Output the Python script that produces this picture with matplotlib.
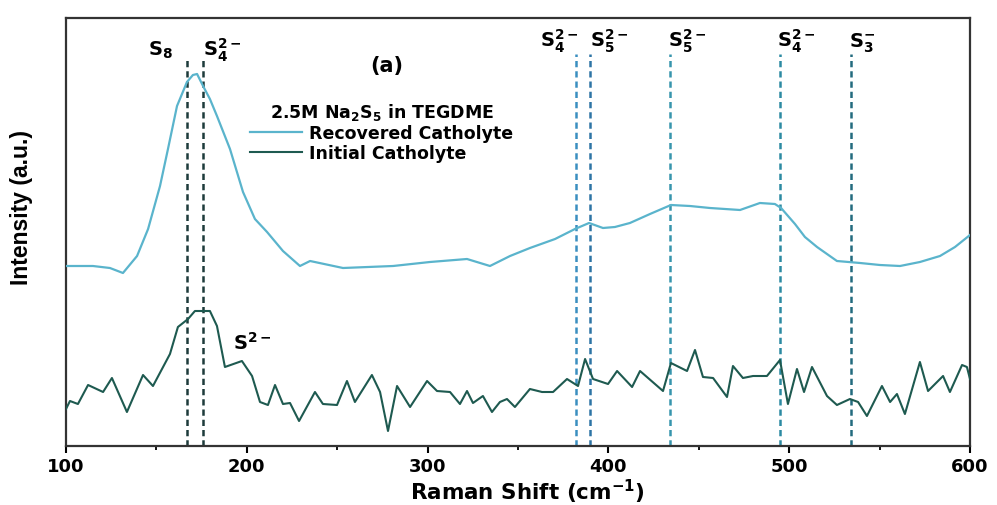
import matplotlib
matplotlib.use("Agg")
import matplotlib.pyplot as plt
from matplotlib.ticker import MultipleLocator

plt.rcParams['font.family'] = ['DejaVu Sans']
plt.rcParams['mathtext.default'] = 'bf'

# Recovered catholyte (upper curve), Raman shift (cm-1) vs intensity (a.u.)
rec_x = [100, 114.9, 124.3, 131.5, 139.3, 145.4, 152.0, 156.4, 161.4, 166.9, 170.2, 172.5,
         175.8, 179.6, 183.5, 190.7, 197.9, 204.5, 211.2, 220.0, 229.4, 235.0, 253.2, 280.9,
         301.3, 321.8, 334.5, 345.6, 356.6, 370.5, 381.5, 389.3, 397.0, 403.6, 411.9, 423.0,
         434.6, 445.1, 456.2, 472.8, 483.8, 492.1, 495.5, 503.2, 508.7, 515.4, 526.4, 539.2,
         550.2, 561.3, 572.3, 583.4, 591.7, 600]
rec_y = [180, 180, 178, 173, 190, 217, 260, 297, 340, 364, 371, 372,
         360, 347, 330, 297, 254, 227, 214, 195, 180, 185, 178, 180,
         184, 187, 180, 190, 198, 207, 217, 223, 218, 219, 223, 232,
         241, 240, 238, 236, 243, 242, 238, 222, 209, 199, 185, 183,
         181, 180, 184, 190, 199, 211]

# Initial catholyte (lower curve)
ini_x = [100, 102.2, 106.6, 112.2, 120.5, 125.4, 133.7, 142.6, 148.1, 157.5, 161.9, 167.5,
         171.3, 179.6, 183.5, 187.9, 197.3, 202.9, 207.3, 211.7, 215.6, 220.0, 223.9, 228.9,
         237.7, 242.1, 249.9, 255.4, 259.8, 269.2, 273.7, 278.1, 283.1, 290.3, 299.7, 305.2,
         312.4, 317.9, 321.8, 325.1, 330.6, 335.6, 340.0, 343.9, 348.3, 356.6, 363.3, 369.4,
         377.1, 383.2, 387.1, 391.5, 399.8, 404.8, 413.1, 417.5, 430.2, 434.6, 443.5, 447.9,
         452.3, 457.9, 465.6, 468.9, 474.4, 480.0, 487.7, 494.9, 499.3, 504.3, 508.2, 512.6,
         520.9, 526.4, 533.6, 538.1, 543.0, 551.3, 555.8, 559.6, 564.0, 572.3, 576.8, 585.1,
         588.9, 595.6, 598.3, 600]
ini_y = [37, 45, 42, 61, 54, 68, 34, 71, 60, 92, 119, 127,
         135, 135, 120, 79, 85, 70, 44, 41, 61, 42, 43, 25,
         54, 42, 41, 65, 44, 71, 54, 15, 60, 39, 65, 55,
         54, 42, 55, 43, 50, 34, 44, 47, 39, 57, 54, 54,
         67, 60, 87, 67, 62, 75, 59, 75, 55, 83, 75, 96,
         69, 68, 49, 80, 68, 70, 70, 86, 42, 77, 54, 79,
         50, 41, 47, 44, 30, 60, 44, 52, 32, 84, 55, 70,
         54, 81, 79, 67]

# Peak assignments (dashed reference lines)
peak_pos = [167, 176, 382, 390, 434, 495, 534]
peak_labels = [r'S$_8$', r'S$_4^{2-}$', r'S$_4^{2-}$', r'S$_5^{2-}$', r'S$_5^{2-}$',
               r'S$_4^{2-}$', r'S$_3^{-}$']
peak_colors = ['#1d3b3b', '#1d3b3b', '#3a8fc0', '#2d74a5', '#3795ad', '#2c8aa2', '#236b7e']

fig = plt.figure(figsize=(9.97, 5.06), dpi=100)
ax = fig.add_axes([66/997, 1-447/506, 904/997, 428/506])

ax.plot(rec_x, rec_y, color='#5ab4cc', lw=1.6, label='Recovered Catholyte', zorder=3)
ax.plot(ini_x, ini_y, color='#1e5a50', lw=1.5, label='Initial Catholyte', zorder=3)

# label placement: (ha, dx, y-top of line, y baseline)
label_cfg = [('right', -8, 389, 391), ('left', 0, 389, 391), ('right', 1.5, 392, 400),
             ('left', 0, 392, 400), ('left', -1, 392, 400), ('left', -2, 392, 400),
             ('left', -1, 392, 400)]
for xp, lab, col, (ha, dx, ytop, yb) in zip(peak_pos, peak_labels, peak_colors, label_cfg):
    ax.vlines(xp, 0, ytop, colors=col, linestyles=(0, (2.5, 1.6)), lw=1.8, zorder=2)
    ax.text(xp + dx, yb, lab, ha=ha, va='baseline', fontsize=14, fontweight='bold')

ax.text(192.4, 97, r'S$^{2-}$', ha='left', va='baseline', fontsize=14, fontweight='bold')
ax.text(277.5, 381, '(a)', ha='center', va='center', fontsize=15, fontweight='bold')

leg = ax.legend(loc='upper left', bbox_to_anchor=(0.2035, 0.805), frameon=False,
                title=r'2.5M Na$_2$S$_5$ in TEGDME',
                title_fontproperties={'weight': 'bold', 'size': 12.5},
                prop={'weight': 'bold', 'size': 12.5},
                handlelength=3.0, handletextpad=0.4, labelspacing=0.1,
                borderpad=0, borderaxespad=0)

ax.set_xlim(100, 600)
ax.set_ylim(0, 428)
ax.set_yticks([])
ax.xaxis.set_major_locator(MultipleLocator(100))
ax.xaxis.set_minor_locator(MultipleLocator(50))
ax.tick_params(axis='x', which='major', direction='out', length=5, width=1.5,
               labelsize=13, pad=3)
ax.tick_params(axis='x', which='minor', direction='out', length=3, width=1.3)
for lbl in ax.get_xticklabels():
    lbl.set_fontweight('bold')
for sp in ax.spines.values():
    sp.set_linewidth(1.6)
    sp.set_color('#333333')

ax.set_xlabel(r'Raman Shift (cm$^{-1}$)', fontsize=15.5, fontweight='bold')
ax.xaxis.set_label_coords(0.511, -0.072)
ax.set_ylabel('Intensity (a.u.)', fontsize=16.5, fontweight='bold',
              family=['Liberation Sans'])
ax.yaxis.set_label_coords(-0.037, 0.56)

fig.savefig('out.png', dpi=100)
